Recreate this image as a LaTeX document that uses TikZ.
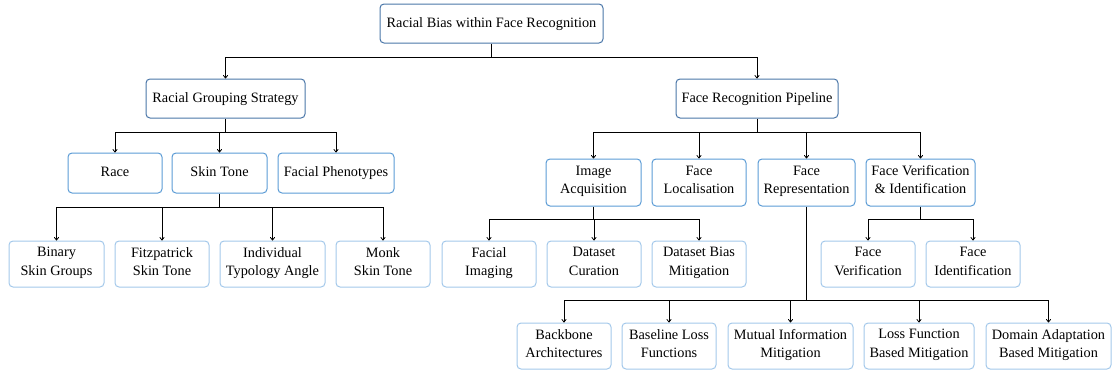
\documentclass[tikz,border=0pt]{standalone}
\usepackage{fontspec}
\setmainfont{Liberation Serif}
\usetikzlibrary{arrows.meta}
\definecolor{cA}{HTML}{4A76A8}
\definecolor{cB}{HTML}{5B9BD5}
\definecolor{cC}{HTML}{A3C8EA}
\tikzset{
  box/.style={rounded corners=4pt, line width=1pt, align=center, inner sep=1pt,
    font=\fontsize{14.3}{18.3}\selectfont, text=black,
    execute at begin node={\strut}, execute at end node={\strut}},
  lvlA/.style={box, draw=cA, minimum height=39pt},
  lvlB/.style={box, draw=cB},
  lvlC/.style={box, draw=cC, minimum height=46pt},
  conn/.style={line width=0.8pt, draw=black, -{To[length=3.5pt,width=5pt]}},
  stem/.style={line width=0.8pt, draw=black}
}
\begin{document}
\begin{tikzpicture}[x=1pt,y=-1pt]
\useasboundingbox (0,0) rectangle (1114,372);
% level 0/1
\node[lvlA, minimum width=223pt] (root) at (491.5,23.5) {Racial Bias within Face Recognition};
\node[lvlA, minimum width=159pt] (rgs) at (225.5,98.5) {Racial Grouping Strategy};
\node[lvlA, minimum width=162pt] (frp) at (757,98.5) {Face Recognition Pipeline};
% level 2 left
\node[lvlB, minimum height=40pt, minimum width=94pt] (race) at (115,173) {Race};
\node[lvlB, minimum height=40pt, minimum width=95pt] (skin) at (219.5,173) {Skin Tone};
\node[lvlB, minimum height=40pt, minimum width=116pt] (phen) at (336,173) {Facial Phenotypes};
% level 2 right
\node[lvlB, minimum height=47pt, minimum width=95pt] (img) at (593.5,182.5) {Image\\Acquisition};
\node[lvlB, minimum height=47pt, minimum width=94pt] (loc) at (699,182.5) {Face\\Localisation};
\node[lvlB, minimum height=47pt, minimum width=97pt] (rep) at (806.5,182.5) {Face\\Representation};
\node[lvlB, minimum height=47pt, minimum width=109pt] (fvi) at (920.5,182.5) {Face Verification\\\& Identification};
% level 3
\node[lvlC, minimum width=95pt] (bin) at (56.5,264) {Binary\\Skin Groups};
\node[lvlC, minimum width=94pt] (fitz) at (162,264) {Fitzpatrick\\Skin Tone};
\node[lvlC, minimum width=105pt] (ita) at (272.5,264) {Individual\\Typology Angle};
\node[lvlC, minimum width=94pt] (monk) at (383,264) {Monk\\Skin Tone};
\node[lvlC, minimum width=94pt] (fimg) at (489,264) {Facial\\Imaging};
\node[lvlC, minimum width=94pt] (dcur) at (594,264) {Dataset\\Curation};
\node[lvlC, minimum width=94pt] (dbias) at (699,264) {Dataset Bias\\Mitigation};
\node[lvlC, minimum width=94pt] (fver) at (868,264) {Face\\Verification};
\node[lvlC, minimum width=94pt] (fid) at (973,264) {Face\\Identification};
% level 4
\node[lvlC, minimum width=94pt] (bb) at (564,346) {Backbone\\Architectures};
\node[lvlC, minimum width=94pt] (bl) at (669,346) {Baseline Loss\\Functions};
\node[lvlC, minimum width=125pt] (mi) at (790.5,346) {Mutual Information\\Mitigation};
\node[lvlC, minimum width=110pt] (lf) at (919,346) {Loss Function\\Based Mitigation};
\node[lvlC, minimum width=125pt] (da) at (1048.5,346) {Domain Adaptation\\Based Mitigation};
% branch levels
\coordinate (y0) at (0,57);
\coordinate (y1) at (0,132);
\coordinate (y2) at (0,207);
\coordinate (y3) at (0,219);
\coordinate (y4) at (0,300);
% connectors
\draw[stem] (root.south) -- (root.south |- y0);
\foreach \c in {rgs,frp} \draw[conn] (root.south |- y0) -| (\c.north);
\draw[stem] (rgs.south) -- (rgs.south |- y1);
\foreach \c in {race,skin,phen} \draw[conn] (rgs.south |- y1) -| (\c.north);
\draw[stem] (frp.south) -- (frp.south |- y1);
\foreach \c in {img,loc,rep,fvi} \draw[conn] (frp.south |- y1) -| (\c.north);
\draw[stem] (skin.south) -- (skin.south |- y2);
\foreach \c in {bin,fitz,ita,monk} \draw[conn] (skin.south |- y2) -| (\c.north);
\draw[stem] (img.south) -- (img.south |- y3);
\foreach \c in {fimg,dcur,dbias} \draw[conn] (img.south |- y3) -| (\c.north);
\draw[stem] (fvi.south) -- (fvi.south |- y3);
\foreach \c in {fver,fid} \draw[conn] (fvi.south |- y3) -| (\c.north);
\draw[stem] (rep.south) -- (rep.south |- y4);
\foreach \c in {bb,bl,mi,lf,da} \draw[conn] (rep.south |- y4) -| (\c.north);
\end{tikzpicture}
\end{document}
